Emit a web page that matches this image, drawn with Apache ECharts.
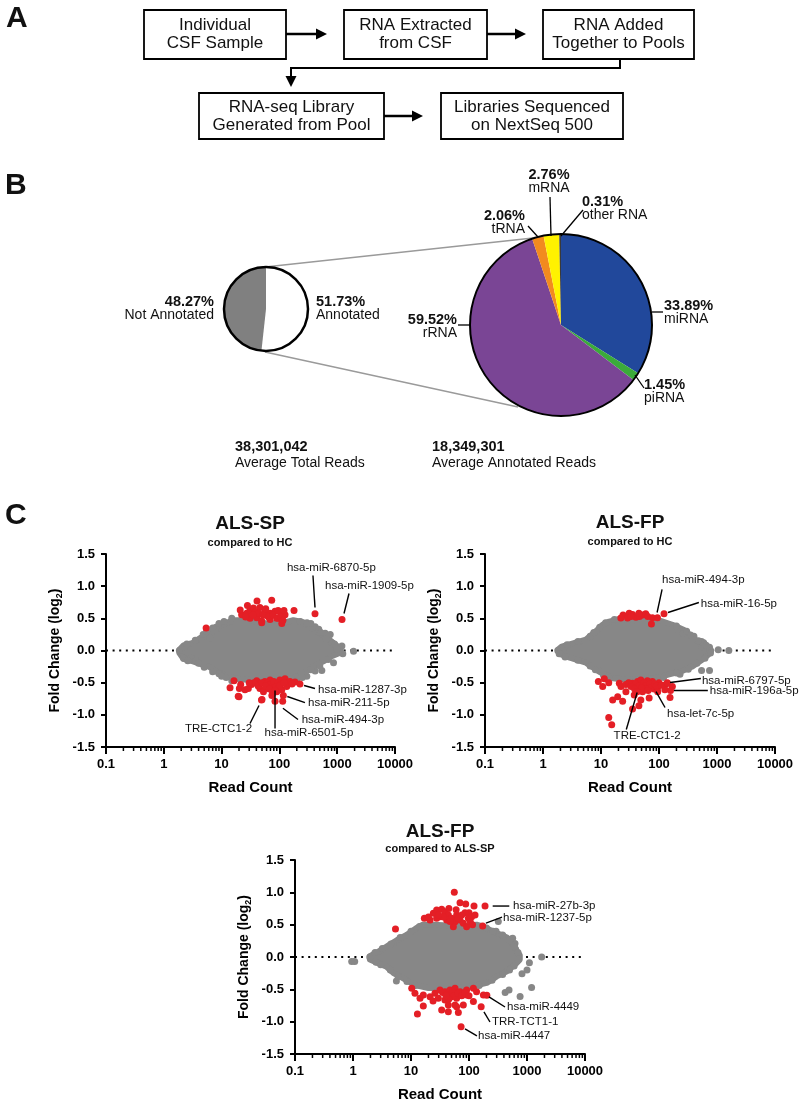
<!DOCTYPE html>
<html><head><meta charset="utf-8">
<script src="https://cdn.jsdelivr.net/npm/echarts@6/dist/echarts.min.js"></script>
<style>html,body{margin:0;padding:0;background:#fff}#c{width:800px;height:1104px}</style>
</head><body><div id="c"></div>
<script>
// ---------------- DATA ----------------
const flowSteps = [['Individual','CSF Sample'],['RNA Extracted','from CSF'],['RNA Added','Together to Pools'],['RNA-seq Library','Generated from Pool'],['Libraries Sequenced','on NextSeq 500']];

const totalNames = ['Annotated','Not Annotated'];
const totalValues = [51.73, 48.27];
const annotNames = ['miRNA','piRNA','rRNA','tRNA','mRNA','other RNA'];
const annotValues = [33.89, 1.45, 59.52, 2.06, 2.76, 0.31];
const readCounts = ['38,301,042','18,349,301'];
const readLabels = ['Average Total Reads','Average Annotated Reads'];

const plotTitles = ['ALS-SP','ALS-FP','ALS-FP'];
const plotSubtitles = ['compared to HC','compared to HC','compared to ALS-SP'];
const xTickLabels = ['0.1','1','10','100','1000','10000'];
const minorTickValues = [0.2,0.3,0.4,0.5,0.6,0.7,0.8,0.9,2,3,4,5,6,7,8,9,20,30,40,50,60,70,80,90,200,300,400,500,600,700,800,900,2000,3000,4000,5000,6000,7000,8000,9000];

// dense grey core outline (upper edge then lower edge), [read count, log2 FC]
const sphcCore = [[1.86,0.01],[2.2,0.08],[3.2,0.12],[4.4,0.20],[6.3,0.27],[8.2,0.33],[10.5,0.40],[13,0.44],[18,0.47],[31,0.47],[60,0.42],[117,0.43],[174,0.47],[259,0.44],[340,0.37],[450,0.29],[600,0.23],[800,0.14],[1000,0.07],[1150,0.03],
  [1150,-0.03],[800,-0.09],[575,-0.17],[386,-0.25],[300,-0.32],[230,-0.38],[174,-0.43],[117,-0.45],[60,-0.46],[31,-0.46],[18,-0.44],[12.2,-0.40],[8.2,-0.33],[6,-0.25],[3.2,-0.17],[2.2,-0.13],[1.86,-0.04]];
const sphcGrey = [[1.86,0],[2.2,-0.12],[3.0,-0.12],[2.3,0.05],[6.3,0.2],[3.6,-0.15],[415,0.37],[620,0.27],[757,0.25],[809,0.12],[1205,0.07],[1918,-0.01],[542,-0.31],[415,-0.32],[863,-0.19],[298,-0.40],[240,-0.35],[200,-0.45],[300,0.43],[230,0.45],[8,0.36],[10,0.40],[12,-0.42],[9,-0.36],[700,0.2],[1000,0.02],[1250,-0.05],
  [2.5,0.1],[3.5,0.16],[4.8,0.25],[5.5,0.3],[7,0.35],[9,0.42],[11,0.45],[15,0.5],[2.6,-0.16],[4,-0.2],[5,-0.26],[7,-0.33],[10,-0.4],[15,-0.47],
  [350,0.42],[480,0.33],[520,0.28],[650,0.18],[900,0.1],[700,-0.14],[500,-0.24],[350,-0.3],[250,-0.42],[180,-0.47]];
const sphcRed = [[73.6,0.78],[41,0.77],[28,0.70],[179,0.62],[22.2,0.555],[27.2,0.58],[31,0.63],[35.6,0.66],[46,0.67],[56,0.61],[69,0.58],[84,0.61],[102,0.60],[125,0.555],[31,0.50],[40.5,0.51],[49.4,0.46],[69,0.48],[97,0.50],[110,0.42],[49.4,0.43],[60,0.545],[21,0.63],[38,0.60],[44,0.58],[52,0.55],[65,0.52],[78,0.55],[90,0.50],[105,0.52],[115,0.47],[26,0.52],[35,0.55],[58,0.65],[95,0.62],[120,0.62],[413,0.57],[1211,0.48],[5.4,0.35],
  [16.4,-0.47],[20.3,-0.59],[21.4,-0.53],[25.4,-0.61],[29,-0.59],[20,-0.72],[33,-0.53],[40.5,-0.47],[46,-0.51],[56,-0.48],[69,-0.46],[84,-0.51],[102,-0.46],[125,-0.44],[152,-0.48],[186,-0.49],[227,-0.52],[46,-0.59],[60,-0.575],[74,-0.61],[90,-0.64],[110,-0.61],[134,-0.56],[77,-0.66],[117,-0.70],[49,-0.77],[84,-0.79],[114,-0.79],[64,-0.52],[53,-0.64],[36,-0.50],[43,-0.55],[50,-0.50],[62,-0.50],[70,-0.53],[80,-0.48],[95,-0.50],[105,-0.53],[140,-0.50],[165,-0.52],[30,-0.50],[58,-0.55],[88,-0.56],[67,-0.60],[14,-0.58],[19.4,-0.71],[74,-0.70],[100,-0.55],[120,-0.50],[50,-0.76],[84,-0.62]];

const fphcCore = [[1.8,0.01],[2.1,0.06],[3.3,0.11],[5.5,0.17],[8.2,0.30],[10.7,0.40],[13.9,0.45],[20.7,0.49],[40,0.47],[100,0.47],[170,0.40],[270,0.32],[330,0.25],[420,0.17],[560,0.11],[700,0.05],[800,0.0],
  [700,-0.07],[560,-0.14],[375,-0.25],[250,-0.32],[150,-0.37],[77,-0.44],[31,-0.46],[16,-0.43],[12,-0.38],[9.4,-0.33],[5.5,-0.19],[2.9,-0.11],[1.9,-0.05]];
const fphcGrey = [[1.8,0],[1.9,-0.05],[2.3,0.05],[542,0.14],[542,0.06],[743,0.05],[773,-0.04],[1050,0.01],[1600,0.0],[542,-0.31],[743,-0.31],[590,0.12],[230,-0.37],[220,0.32],[260,0.26],[400,0.22],[9.3,-0.31],
  [2.6,0.09],[4,0.14],[6.5,0.22],[7.5,0.28],[9.5,0.36],[12,0.43],[17,0.48],[2.4,-0.1],[4,-0.15],[6.5,-0.24],[8,-0.3],[11,-0.38],[14,-0.43],
  [200,0.38],[300,0.3],[350,0.24],[480,0.15],[650,0.08],[620,-0.12],[450,-0.2],[320,-0.29],[200,-0.35],[120,-0.42]];
const fphcRed = [[24,0.55],[30.6,0.58],[35,0.56],[40,0.515],[52,0.55],[59,0.57],[77,0.51],[94,0.51],[74,0.41],[122,0.57],[22,0.505],[28.7,0.505],[33,0.53],[46,0.53],[64,0.53],[45,0.58],
  [9.0,-0.48],[11.4,-0.44],[13.6,-0.50],[10.7,-0.56],[20.7,-0.51],[22.1,-0.56],[26.9,-0.53],[35,-0.51],[42.7,-0.48],[48.6,-0.46],[63,-0.47],[77,-0.48],[100,-0.50],[131,-0.53],[170,-0.56],[126,-0.61],[155,-0.73],[15.9,-0.77],[19.4,-0.72],[23.6,-0.79],[26.9,-0.64],[37.4,-0.69],[48.6,-0.77],[52,-0.64],[67.6,-0.74],[82,-0.60],[94,-0.59],[13.6,-1.04],[15.3,-1.155],[30,-0.50],[40,-0.52],[45,-0.55],[55,-0.50],[58,-0.55],[70,-0.52],[72,-0.58],[85,-0.52],[90,-0.55],[60,-0.60],[50,-0.58],[33,-0.56],[38,-0.60],[65,-0.62],[110,-0.54],[95,-0.64],[35,-0.91],[45,-0.86],[42,-0.64],[139,-0.50],[158,-0.62]];

const fpspCore = [[1.95,0.01],[2.2,0.04],[2.7,0.08],[3.8,0.16],[5.7,0.26],[8.4,0.34],[12.5,0.45],[16,0.50],[25,0.50],[60,0.48],[100,0.48],[135,0.50],[177,0.47],[229,0.42],[300,0.37],[450,0.30],[560,0.20],[650,0.10],[750,0.03],
  [750,-0.04],[650,-0.10],[560,-0.15],[450,-0.22],[300,-0.30],[202,-0.40],[104,-0.46],[50,-0.48],[20,-0.48],[14,-0.45],[11,-0.42],[7,-0.32],[5,-0.25],[3.8,-0.15],[2.5,-0.08],[1.95,-0.04]];
const fpspGrey = [[0.95,-0.07],[1.07,-0.07],[1.95,0],[5.6,-0.37],[566,0.29],[621,0.21],[638,0.12],[1790,0.0],[1200,-0.47],[1000,-0.2],[1100,-0.09],[420,-0.55],[490,-0.51],[760,-0.61],[820,-0.26],[293,0.40],[531,0.28],[605,0.18],[320,0.55],[2.5,-0.08],[5,0.2],
  [2.4,0.07],[3.2,0.13],[4.5,0.2],[6.5,0.3],[10,0.4],[14,0.47],[3,-0.12],[4.4,-0.2],[6,-0.3],[8.5,-0.38],[12,-0.44],
  [200,0.45],[260,0.4],[380,0.34],[500,0.26],[600,0.16],[700,0.07],[600,-0.14],[500,-0.2],[380,-0.27],[250,-0.36],[150,-0.44]];
const fpspRed = [[55.8,1.0],[70,0.84],[87.7,0.82],[122,0.79],[100,0.685],[189,0.79],[172,0.48],[24.3,0.675],[27.7,0.726],[33.8,0.737],[38.5,0.70],[44,0.65],[31.6,0.623],[41.2,0.572],[50.2,0.598],[57.4,0.546],[70,0.572],[79.8,0.52],[91,0.469],[97.4,0.598],[111,0.623],[127,0.65],[53.7,0.469],[27.7,0.598],[21.3,0.572],[61.2,0.65],[85.3,0.685],[5.4,0.433],[36,0.62],[47,0.55],[65,0.60],[75,0.65],[105,0.55],[115,0.50],[30,0.65],[60,0.73],[45,0.75],[17,0.60],[20,0.62],
  [10.3,-0.485],[11.7,-0.562],[14.3,-0.639],[16.3,-0.587],[16.3,-0.757],[12.9,-0.88],[21.3,-0.613],[25.9,-0.562],[31.6,-0.51],[38.5,-0.536],[47,-0.51],[57.4,-0.485],[70,-0.536],[91,-0.51],[119,-0.485],[135,-0.536],[203,-0.59],[162,-0.77],[119,-0.69],[79.8,-0.742],[61.2,-0.639],[50.2,-0.613],[38.5,-0.665],[29.6,-0.639],[44,-0.742],[61.2,-0.768],[33.8,-0.82],[44,-0.845],[65.5,-0.86],[73,-1.08],[57.4,-0.742],[91,-0.587],[35,-0.55],[42,-0.58],[52,-0.55],[55,-0.60],[65,-0.56],[75,-0.60],[85,-0.55],[100,-0.60],[45,-0.65],[40,-0.60],[24,-0.68],[177,-0.587]];

// annotation labels (placed in data coordinates)
const sphcNotes = [
  {name:'hsa-miR-6870-5p', at:[135,1.29], line:[[381,1.166],[413,0.669]]},
  {name:'hsa-miR-1909-5p', at:[615,1.011], line:[[1600,0.886],[1312,0.575]]},
  {name:'hsa-miR-1287-3p', at:[466,-0.607], line:[[267,-0.544],[413,-0.591]]},
  {name:'hsa-miR-211-5p', at:[313,-0.809], line:[[137,-0.715],[277,-0.809]]},
  {name:'hsa-miR-494-3p', at:[243,-1.073], line:[[115,-0.897],[210,-1.073]]},
  {name:'hsa-miR-6501-5p', at:[325,-1.286], align:'center', line:[[84,-0.622],[84,-1.213]]},
  {name:'TRE-CTC1-2', at:[33.6,-1.213], align:'right', line:[[31,-1.135],[44.4,-0.855]]}
];
const fphcNotes = [
  {name:'hsa-miR-494-3p', at:[113,1.104], line:[[113,0.949],[92.7,0.591]]},
  {name:'hsa-miR-16-5p', at:[527,0.731], line:[[487,0.746],[143,0.591]]},
  {name:'hsa-miR-6797-5p', at:[549,-0.467], line:[[527,-0.435],[155,-0.498]]},
  {name:'hsa-miR-196a-5p', at:[752,-0.622], line:[[695,-0.622],[181,-0.622]]},
  {name:'hsa-let-7c-5p', at:[138,-0.98], line:[[89,-0.638],[127,-0.886]]},
  {name:'TRE-CTC1-2', at:[62.5,-1.322], align:'center', line:[[27.3,-1.229],[42,-0.653]]}
];
const fpspNotes = [
  {name:'hsa-miR-27b-3p', at:[574,0.788], line:[[256,0.788],[495,0.788]]},
  {name:'hsa-miR-1237-5p', at:[386,0.603], line:[[196,0.525],[371,0.618]]},
  {name:'hsa-miR-4449', at:[452,-0.773], line:[[221,-0.618],[418,-0.773]]},
  {name:'TRR-TCT1-1', at:[249,-1.005], line:[[181,-0.85],[230,-1.005]]},
  {name:'hsa-miR-4447', at:[143,-1.221], line:[[85.3,-1.113],[137,-1.221]]}
];

// ---------------- LAYOUT / STYLE ----------------
const FONT = '"Liberation Sans", Arial, Helvetica, sans-serif';
const GREY = '#878787', RED = '#e41f26';
const GRIDS = [
  {left:106, top:554, width:289, height:193, title:[250,524], sub:[250,543]},
  {left:485, top:554, width:290, height:193, title:[630,523], sub:[630,542]},
  {left:295, top:860, width:290, height:194, title:[440,832], sub:[440,849]}
];
const plots = [
  {core:sphcCore, grey:sphcGrey, red:sphcRed, notes:sphcNotes},
  {core:fphcCore, grey:fphcGrey, red:fphcRed, notes:fphcNotes},
  {core:fpspCore, grey:fpspGrey, red:fpspRed, notes:fpspNotes}
];

const series = [];
plots.forEach((p, i) => {
  const ax = {xAxisIndex:i, yAxisIndex:i};
  series.push(Object.assign({type:'line', data:[[0.1,0],[10000,0]], symbol:'none', silent:true, z:1,
    lineStyle:{color:'#000', width:2, type:[2,4.6]}}, ax));
  series.push(Object.assign({type:'custom', silent:true, z:2, data:[[p.core[0][0], p.core[0][1]]],
    renderItem:(params, api) => ({type:'polygon', shape:{points:p.core.map(d => api.coord(d))},
      style:{fill:GREY, stroke:GREY, lineWidth:6, lineJoin:'round'}})}, ax));
  series.push(Object.assign({type:'scatter', data:p.grey, symbolSize:7, itemStyle:{color:GREY, opacity:1}, silent:true, z:3}, ax));
  series.push(Object.assign({type:'scatter', data:p.red, symbolSize:7, itemStyle:{color:RED, opacity:1}, silent:true, z:4}, ax));
  series.push(Object.assign({type:'custom', silent:true, z:6, clip:false, data:p.notes.map(n => n.at),
    renderItem:(params, api) => {
      const n = p.notes[params.dataIndex];
      const a = api.coord(n.line[0]), b = api.coord(n.line[1]), t = api.coord(n.at);
      return {type:'group', children:[
        {type:'line', shape:{x1:a[0], y1:a[1], x2:b[0], y2:b[1]}, style:{stroke:'#000', lineWidth:1.4}},
        {type:'text', x:t[0], y:t[1], style:{text:n.name, fill:'#111', font:'11.5px ' + FONT, align:n.align || 'left', verticalAlign:'middle'}}
      ]};
    }}, ax));
  series.push(Object.assign({type:'custom', silent:true, z:6, clip:false, data:minorTickValues.map(v => [v, -1.5]),
    renderItem:(params, api) => {
      const c = api.coord([api.value(0), -1.5]);
      return {type:'line', shape:{x1:c[0], y1:c[1], x2:c[0], y2:c[1] + 4}, style:{stroke:'#000', lineWidth:1.5}};
    }}, ax));
});

// pies
const bigColors = ['#21489b','#3bab3a','#7a4595','#f28a1f','#fff200','#3a3a3a'];
const smallColors = ['#ffffff','#808080'];
const SMALL = {c:[266,309], r:42}, BIG = {c:[561,325], r:91};
series.push({type:'pie', center:SMALL.c, radius:SMALL.r, startAngle:90, clockwise:true, silent:true, label:{show:false}, labelLine:{show:false},
  data:totalNames.map((n,i) => ({name:n, value:totalValues[i], itemStyle:{color:smallColors[i]}}))});
series.push({type:'pie', center:BIG.c, radius:BIG.r, startAngle:90, clockwise:true, silent:true, label:{show:false}, labelLine:{show:false},
  data:annotNames.map((n,i) => ({name:n, value:annotValues[i], itemStyle:{color:bigColors[i]}}))});

// graphics
const g = [];
const txt = (x, y, text, size, bold, align, va) => g.push({type:'text', x, y, silent:true, z:10,
  style:{text, fill:'#111', font:(bold ? 'bold ' : '') + size + 'px ' + FONT, align:align || 'left', verticalAlign:va || 'middle'}});
const line = (pts, color, w) => g.push({type:'polyline', silent:true, z:10, shape:{points:pts}, style:{stroke:color || '#000', lineWidth:w || 2, fill:null}});
const arrowHead = (tip, dir) => {
  const pts = dir === 'r' ? [[tip[0],tip[1]],[tip[0]-11,tip[1]-5.5],[tip[0]-11,tip[1]+5.5]] : [[tip[0],tip[1]],[tip[0]-5.5,tip[1]-11],[tip[0]+5.5,tip[1]-11]];
  g.push({type:'polygon', silent:true, z:10, shape:{points:pts}, style:{fill:'#000'}});
};
// panel letters
txt(6, 19, 'A', 30, true); txt(5, 186, 'B', 30, true); txt(5, 516, 'C', 30, true);
// flow chart
const boxes = [[144,10,142,49],[344,10,143,49],[543,10,151,49],[199,93,185,46],[441,93,182,46]];
boxes.forEach((b, i) => {
  g.push({type:'rect', silent:true, z:10, shape:{x:b[0], y:b[1], width:b[2], height:b[3]}, style:{fill:'#fff', stroke:'#000', lineWidth:1.8}});
  const cx = b[0] + b[2] / 2, cy = b[1] + b[3] / 2;
  txt(cx, cy - 9, flowSteps[i][0], 17, false, 'center');
  txt(cx, cy + 9, flowSteps[i][1], 17, false, 'center');
});
line([[286,34],[318,34]], '#000', 2.5); arrowHead([327,34], 'r');
line([[487,34],[517,34]], '#000', 2.5); arrowHead([526,34], 'r');
line([[384,116],[414,116]], '#000', 2.5); arrowHead([423,116], 'r');
line([[620,59],[620,68],[291,68],[291,77]], '#000', 2); arrowHead([291,87], 'd');
// pie outlines and connectors
line([[265,267],[533,238]], '#9a9a9a', 1.5);
line([[265,352],[518,407]], '#9a9a9a', 1.5);
g.push({type:'circle', silent:true, z:10, shape:{cx:SMALL.c[0], cy:SMALL.c[1], r:SMALL.r}, style:{fill:null, stroke:'#000', lineWidth:2.5}});
g.push({type:'circle', silent:true, z:10, shape:{cx:BIG.c[0], cy:BIG.c[1], r:BIG.r}, style:{fill:null, stroke:'#000', lineWidth:2}});
// pie labels
const pct = v => v.toFixed(2) + '%';
const smallLab = [{x:316, y:302, align:'left'}, {x:214, y:302, align:'right'}];
totalNames.forEach((n, i) => { const L = smallLab[i]; txt(L.x, L.y, pct(totalValues[i]), 14.5, true, L.align); txt(L.x, L.y + 13.5, n, 14, false, L.align); });
const bigLab = [
  {x:664, y:306, align:'left', ln:[[652,312],[663,312]]},
  {x:644, y:385, align:'left', ln:[[635,375],[644,388]]},
  {x:457, y:320, align:'right', ln:[[458,325],[470,325]]},
  {x:525, y:216, align:'right', ln:[[528,226],[538,237]]},
  {x:549, y:175, align:'center', ln:[[550,197],[551,236]]},
  {x:582, y:202, align:'left', ln:[[583,210],[561,236]]}
];
annotNames.forEach((n, i) => { const L = bigLab[i]; txt(L.x, L.y, pct(annotValues[i]), 14.5, true, L.align); txt(L.x, L.y + 13.5, n, 14, false, L.align); line(L.ln, '#000', 1.3); });
const readX = [235, 432];
readCounts.forEach((r, i) => { txt(readX[i], 447, r, 14.5, true); txt(readX[i], 463, readLabels[i], 14); });
// plot titles
GRIDS.forEach((G, i) => { txt(G.title[0], G.title[1], plotTitles[i], 19, true, 'center'); txt(G.sub[0], G.sub[1], plotSubtitles[i], 11, true, 'center'); });

const axisText = {color:'#000', fontWeight:'bold', fontSize:13, fontFamily:FONT};
const option = {
  animation:false,
  backgroundColor:'#fff',
  grid:GRIDS.map(G => ({left:G.left, top:G.top, width:G.width, height:G.height})),
  xAxis:GRIDS.map((G, i) => ({gridIndex:i, type:'log', logBase:10, min:0.1, max:10000,
    axisLine:{onZero:false, lineStyle:{color:'#000', width:2}},
    axisTick:{length:7, lineStyle:{color:'#000', width:2}},
    axisLabel:Object.assign({margin:11, formatter:v => xTickLabels[Math.round(Math.log10(v)) + 1]}, axisText),
    splitLine:{show:false}, minorTick:{show:false},
    name:'Read Count', nameLocation:'middle', nameGap:33,
    nameTextStyle:{color:'#000', fontWeight:'bold', fontSize:15, fontFamily:FONT}})),
  yAxis:GRIDS.map((G, i) => ({gridIndex:i, type:'value', min:-1.5, max:1.5, interval:0.5,
    axisLine:{onZero:false, lineStyle:{color:'#000', width:2}},
    axisTick:{length:5, lineStyle:{color:'#000', width:2}},
    axisLabel:Object.assign({margin:11, formatter:v => v.toFixed(1)}, axisText),
    splitLine:{show:false},
    name:'{a|Fold Change (log}{s|2}{a|)}', nameLocation:'middle', nameGap:42,
    nameTextStyle:{rich:{a:{color:'#000', fontWeight:'bold', fontSize:14, fontFamily:FONT},
      s:{color:'#000', fontWeight:'bold', fontSize:9, fontFamily:FONT, padding:[8,0,0,0]}}}})),
  series:series,
  graphic:{elements:g}
};
const chart = echarts.init(document.getElementById('c'), null, {renderer:'canvas'});
chart.setOption(option);
</script></body></html>
